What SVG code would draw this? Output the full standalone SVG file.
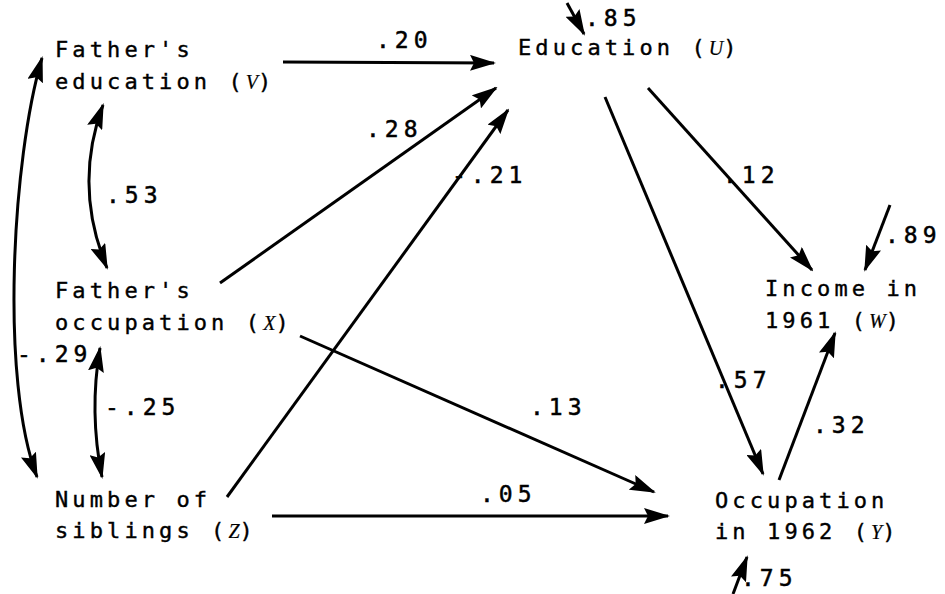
<svg xmlns="http://www.w3.org/2000/svg" width="945" height="594" viewBox="0 0 945 594">
<style>
.n{font-family:"DejaVu Sans Mono","Liberation Mono",monospace;font-size:22px;letter-spacing:4.1px;fill:#000;stroke:#000;stroke-width:0.4px}
.v{font-family:"Liberation Serif",serif;font-style:italic;font-size:20px;letter-spacing:0;stroke-width:0.2px}
.l{font-family:"DejaVu Sans Mono","Liberation Mono",monospace;font-size:23px;letter-spacing:5px;fill:#000;stroke:#000;stroke-width:0.5px}
.c{fill:none;stroke:#000;stroke-width:3}
</style>
<defs>
<marker id="ah" viewBox="0 0 26 16" refX="24" refY="8" markerWidth="26" markerHeight="16" markerUnits="userSpaceOnUse" orient="auto-start-reverse">
<path d="M0,0 L26,8 L0,16 L4,8 z" fill="#000"/>
</marker>
</defs>
<rect width="945" height="594" fill="#fff"/>
<g id="connectors">
<line class="c" x1="283" y1="62" x2="494" y2="63" marker-end="url(#ah)"/>
<line class="c" x1="220" y1="283" x2="496" y2="88" marker-end="url(#ah)"/>
<line class="c" x1="227" y1="497" x2="508" y2="110" marker-end="url(#ah)"/>
<line class="c" x1="300" y1="336" x2="654" y2="492" marker-end="url(#ah)"/>
<line class="c" x1="272" y1="516" x2="668" y2="516" marker-end="url(#ah)"/>
<line class="c" x1="605" y1="97" x2="763" y2="474" marker-end="url(#ah)"/>
<line class="c" x1="648" y1="88" x2="812" y2="270" marker-end="url(#ah)"/>
<line class="c" x1="779" y1="480" x2="835" y2="333" marker-end="url(#ah)"/>
<line class="c" x1="567" y1="3" x2="584" y2="34" marker-end="url(#ah)"/>
<line class="c" x1="890" y1="205" x2="865" y2="270" marker-end="url(#ah)"/>
<line class="c" x1="733" y1="594" x2="747" y2="557" marker-end="url(#ah)"/>
<path class="c" d="M103,105 Q73,186 107,268" marker-start="url(#ah)" marker-end="url(#ah)"/>
<path class="c" d="M100,348 Q89,412 102,477" marker-start="url(#ah)" marker-end="url(#ah)"/>
<path class="c" d="M42,58 C12,160 0,380 37,477" marker-start="url(#ah)" marker-end="url(#ah)"/>
<text class="l" x="376" y="48">.20</text>
<text class="l" x="366" y="137">.28</text>
<text class="l" x="452" y="183">-.21</text>
<text class="l" x="530" y="415">.13</text>
<text class="l" x="480" y="502">.05</text>
<text class="l" x="715" y="388">.57</text>
<text class="l" x="723" y="183">.12</text>
<text class="l" x="813" y="433">.32</text>
<text class="l" x="585" y="26">.85</text>
<text class="l" x="885" y="243">.89</text>
<text class="l" x="741" y="586">.75</text>
<text class="l" x="106" y="203">.53</text>
<text class="l" x="105" y="415">-.25</text>
<text class="l" x="17" y="362">-.29</text>
</g>
<g id="father-education">
<text class="n" x="55" y="57">Father's</text>
<text class="n" x="55" y="89">education (<tspan class="v">V</tspan>)</text>
</g>
<g id="education">
<text class="n" x="518" y="55">Education (<tspan class="v">U</tspan>)</text>
</g>
<g id="father-occupation">
<text class="n" x="55" y="298">Father's</text>
<text class="n" x="55" y="330">occupation (<tspan class="v">X</tspan>)</text>
</g>
<g id="siblings">
<text class="n" x="55" y="507">Number of</text>
<text class="n" x="55" y="538">siblings (<tspan class="v">Z</tspan>)</text>
</g>
<g id="income">
<text class="n" x="765" y="296">Income in</text>
<text class="n" x="765" y="328">1961 (<tspan class="v">W</tspan>)</text>
</g>
<g id="occupation">
<text class="n" x="715" y="508">Occupation</text>
<text class="n" x="715" y="539">in 1962 (<tspan class="v">Y</tspan>)</text>
</g>
</svg>
